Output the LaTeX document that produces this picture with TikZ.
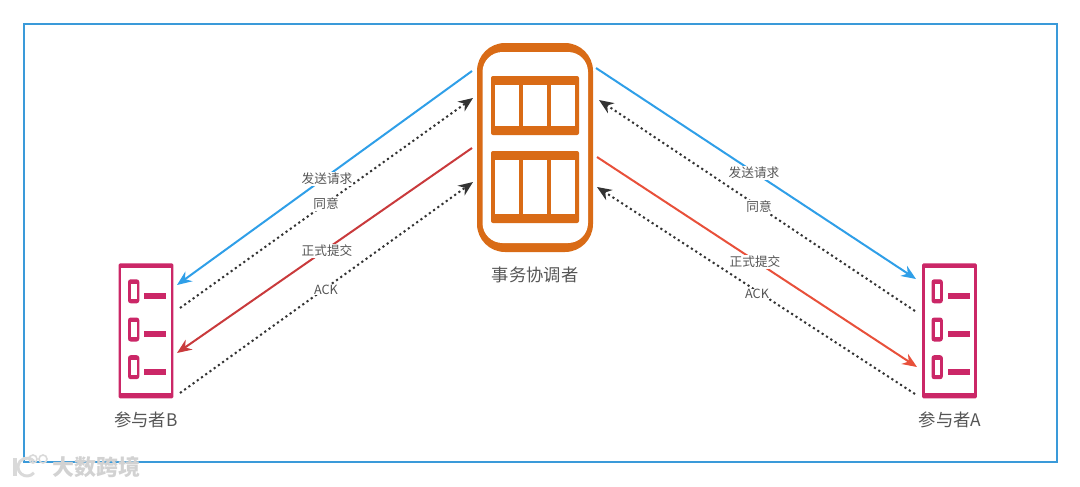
\documentclass[tikz,border=0pt]{standalone}
\usepackage{fontspec}
\setmainfont{Noto Sans CJK SC}
\usetikzlibrary{arrows.meta}

\definecolor{framecol}{HTML}{3A9AD9}
\definecolor{orangecol}{HTML}{D96B16}
\definecolor{pinkcol}{HTML}{CB2767}
\definecolor{bluecol}{HTML}{2F9FE8}
\definecolor{redlcol}{HTML}{C93A3C}
\definecolor{redrcol}{HTML}{E8503A}
\definecolor{dotcol}{HTML}{333333}
\definecolor{textcol}{HTML}{555555}

\tikzstyle{arrow} = [line width=1.5pt,-{Stealth[length=11pt,width=9pt]}]
\tikzstyle{arrowdot} = [arrow,dotcol,line width=1.5pt,dash pattern=on 1.6pt off 2.3pt]
\tikzstyle{msg} = [fill=white,text=textcol,font=\fontsize{9.5}{10}\selectfont,inner sep=0.5pt]
\tikzstyle{nametext} = [text=textcol,font=\fontsize{13}{15}\selectfont,inner sep=0pt]
\tikzstyle{hub} = [fill=orangecol,rounded corners=21pt,minimum width=87pt,minimum height=156.75pt,inner sep=0pt]
\tikzstyle{partbox} = [fill=pinkcol,rounded corners=1pt,minimum width=41pt,minimum height=101.25pt,inner sep=0pt]
\tikzstyle{panel} = [fill=orangecol,rounded corners=1.5pt]

\tikzset{
  rowicon/.pic={
    \fill [pinkcol,rounded corners=2pt] (-18,-12) rectangle (-6.7,12);
    \fill [white] (-15,-7.5) rectangle (-9.3,7.5);
    \fill [pinkcol] (-2,1.4) rectangle (20,7.4);
  }
}

\begin{document}
\begin{tikzpicture}[x=0.75pt,y=-0.75pt]
\useasboundingbox (0,0) rectangle (1080,486);

\draw [framecol,line width=1.5pt] (24,24) rectangle (1057,462);

% coordinator
\node (hub) [hub] at (535,147.5) {};
\fill [white,rounded corners=15pt] (482.5,52) rectangle (588,243);
\fill [panel] (491,76) rectangle (579,135);
\fill [panel] (491,151) rectangle (579,223);
\fill [white] (495.3,85) rectangle (519,126);
\fill [white] (523.3,85) rectangle (547,126);
\fill [white] (551.3,85) rectangle (574.7,126);
\fill [white] (495.3,160) rectangle (519,214);
\fill [white] (523.3,160) rectangle (547,214);
\fill [white] (551.3,160) rectangle (574.7,214);
\node (hubname) [nametext] at (535,275) {事务协调者};

% participants
\node (partB) [partbox] at (146,330.8) {};
\fill [white] (121.2,268.3) rectangle (170.8,393.3);
\pic at (146,291.3) {rowicon};
\pic at (146,329.5) {rowicon};
\pic at (146,367.2) {rowicon};
\node (partBname) [nametext] at (146,420) {参与者B};

\node (partA) [partbox] at (949.5,330.8) {};
\fill [white] (924.7,268.3) rectangle (974.3,393.3);
\pic at (949.5,291.3) {rowicon};
\pic at (949.5,329.5) {rowicon};
\pic at (949.5,367.2) {rowicon};
\node (partAname) [nametext] at (950,420) {参与者A};

% ends of the lines
\coordinate (h1) at (472,71);
\coordinate (h2) at (473,98);
\coordinate (h3) at (472,148);
\coordinate (h4) at (473,182);
\coordinate (b1) at (177,285);
\coordinate (b2) at (180,308);
\coordinate (b3) at (177,353);
\coordinate (b4) at (180,393);
\coordinate (h5) at (596,68);
\coordinate (h6) at (599,100);
\coordinate (h7) at (597,157);
\coordinate (h8) at (597,187);
\coordinate (a1) at (916,279);
\coordinate (a2) at (915,311);
\coordinate (a3) at (917,367);
\coordinate (a4) at (915,394);

\draw [arrow,bluecol] (h1) -- (b1);
\draw [arrowdot] (b2) -- (h2);
\draw [arrow,redlcol] (h3) -- (b3);
\draw [arrowdot] (b4) -- (h4);
\draw [arrow,bluecol] (h5) -- (a1);
\draw [arrowdot] (a2) -- (h6);
\draw [arrow,redrcol] (h7) -- (a3);
\draw [arrowdot] (a4) -- (h8);

\node (sendB) [msg] at (327,179) {发送请求};
\node (okB) [msg] at (326,204) {同意};
\node (commitB) [msg] at (327,251) {正式提交};
\node (ackB) [msg] at (326,290) {ACK};
\node (sendA) [msg] at (754,173) {发送请求};
\node (okA) [msg] at (759,207) {同意};
\node (commitA) [msg] at (755,262) {正式提交};
\node (ackA) [msg] at (757,294) {ACK};

% watermark
\draw [gray!30,line width=2.4pt] (15,458) -- (15,476);
\draw [gray!30,line width=2.2pt] (33.9,472.8) arc (40:320:9);
\draw [gray!30,line width=1.2pt] (33,459) circle (4);
\draw [gray!30,line width=1.2pt] (43,459) circle (4);
\node (mark) [text=gray!35,font=\bfseries\fontsize{16.5}{18}\selectfont,inner sep=0pt] at (96,467) {大数跨境};
\end{tikzpicture}
\end{document}
